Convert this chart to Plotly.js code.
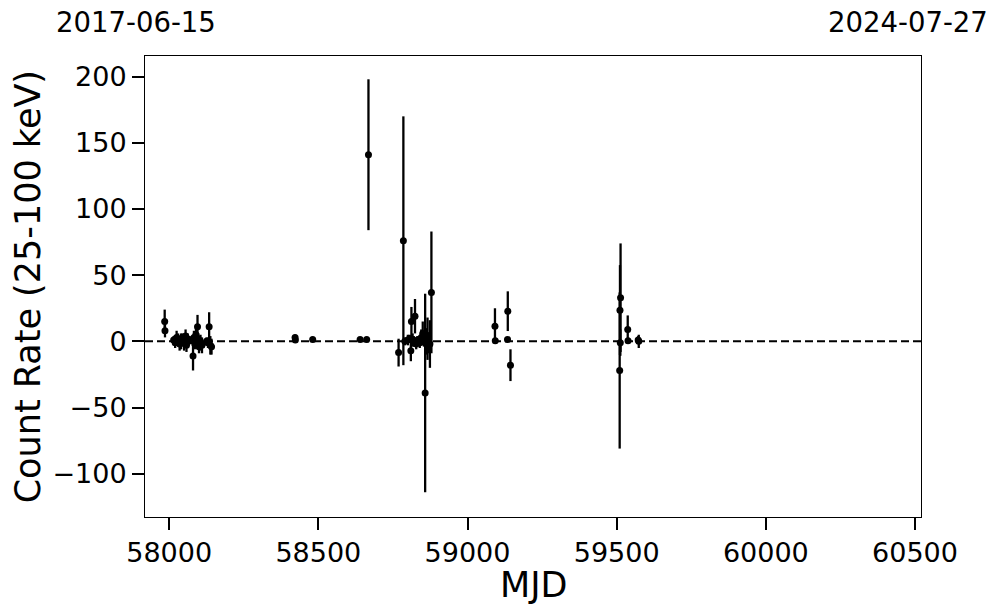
<!DOCTYPE html>
<html>
<head>
<meta charset="utf-8">
<script src="https://cdn.plot.ly/plotly-3.0.1.min.js"></script>
<style>html,body{margin:0;padding:0;background:#fff;}#chart{width:997px;height:613px;}</style>
</head>
<body>
<div id="chart"></div>
<script>
// Observation times (MJD)
var mjd = [
  57985, 57986, 58015, 58020, 58025, 58030, 58035, 58040, 58045, 58050,
  58055, 58058, 58062, 58065, 58075, 58080, 58083, 58086, 58090, 58095,
  58097, 58100, 58105, 58110, 58125, 58130, 58134, 58138, 58142,
  58422, 58423, 58481, 58640, 58662, 58668,
  58769, 58785, 58790, 58800, 58806, 58810, 58812, 58816, 58820, 58824,
  58828, 58832, 58840, 58845, 58850, 58854, 58858, 58862, 58866, 58870,
  58874, 58879,
  59092, 59093, 59134, 59135, 59144,
  59510, 59511, 59512, 59513, 59537, 59538, 59572, 59574
];
// Count rate (25-100 keV)
var rate = [
  15, 8, 1, -1, 3, 2, -2, 0, 1, -1,
  4, -3, 2, 0, 1, -11, 3, -2, 5, 11,
  2, -4, -1, -3, 0, -1, 11, -3, -4,
  3, 1, 1.4, 1.4, 1.4, 141,
  -8.5, 76, 0, 1, 2, -7, 15, 1, 0, 19,
  -2, 1, -1, 3, 6, 1, -39, 0, 2, -1,
  -2, 37,
  11.5, 0.4, 1.4, 22.8, -18,
  -22, 23.6, -1, 33, 9, 0.5, 1, 0
];
// 1-sigma uncertainty
var rateErr = [
  9, 5, 3, 4, 5, 4, 5, 6, 5, 6,
  5, 5, 4, 3, 3, 11, 5, 4, 6, 9,
  4, 5, 6, 6, 3, 4, 11, 7, 6,
  2, 2, 1, 1, 1, 57,
  10.5, 94, 3, 4, 3, 8, 11, 5, 4, 13,
  4, 3, 4, 6, 9, 5, 75, 10, 16, 8,
  18, 46,
  13.5, 1, 1, 15, 12,
  59, 34, 10, 41, 10.6, 2, 3, 5
];
var xTicks = [58000, 58500, 59000, 59500, 60000, 60500];
var xTickText = ['58000', '58500', '59000', '59500', '60000', '60500'];
var yTicks = [-100, -50, 0, 50, 100, 150, 200];
var yTickText = ['\u2212100', '\u221250', '0', '50', '100', '150', '200'];
var startDate = '2017-06-15';
var endDate = '2024-07-27';

var font = 'DejaVu Sans, sans-serif';

var trace = {
  x: mjd, y: rate, type: 'scatter', mode: 'markers',
  marker: {color: '#000', size: 7},
  error_y: {type: 'data', array: rateErr, visible: true, color: '#000', thickness: 2.3, width: 0},
  hoverinfo: 'x+y'
};

var layout = {
  width: 997, height: 613,
  margin: {l: 145, r: 76, t: 56, b: 96},
  paper_bgcolor: '#fff', plot_bgcolor: '#fff',
  showlegend: false,
  font: {family: font, color: '#000'},
  xaxis: {
    range: [57919, 60520], showgrid: false, zeroline: false,
    showline: true, mirror: true, linecolor: '#000', linewidth: 1,
    ticks: 'outside', ticklen: 12, tickwidth: 2, tickcolor: '#000',
    tickvals: xTicks, ticktext: xTickText,
    tickfont: {family: font, size: 27, color: '#000'}
  },
  yaxis: {
    range: [-132.7, 215.6], showgrid: false, zeroline: false,
    showline: true, mirror: true, linecolor: '#000', linewidth: 1,
    ticks: 'outside', ticklen: 12, tickwidth: 2, tickcolor: '#000',
    tickvals: yTicks, ticktext: yTickText,
    tickfont: {family: font, size: 27, color: '#000'}
  },
  shapes: [{
    type: 'line', xref: 'paper', x0: 0, x1: 1, yref: 'y', y0: 0, y1: 0,
    line: {color: '#000', width: 2, dash: '8px,4px'}, layer: 'below'
  }],
  annotations: [
    {text: 'MJD', xref: 'paper', yref: 'paper', x: 0.5, y: -0.148, xanchor: 'center', yanchor: 'middle',
     showarrow: false, font: {family: font, size: 35, color: '#000'}},
    {text: 'Count Rate (25-100 keV)', xref: 'paper', yref: 'paper', x: -0.151, y: 0.5, textangle: -90,
     xanchor: 'center', yanchor: 'middle', showarrow: false, font: {family: font, size: 35, color: '#000'}},
    {text: startDate, xref: 'paper', yref: 'paper', x: -0.0116, y: 1.074, xanchor: 'center', yanchor: 'middle',
     showarrow: false, font: {family: font, size: 27.5, color: '#000'}},
    {text: endDate, xref: 'paper', yref: 'paper', x: 0.983, y: 1.074, xanchor: 'center', yanchor: 'middle',
     showarrow: false, font: {family: font, size: 27.5, color: '#000'}}
  ]
};

Plotly.newPlot('chart', [trace], layout, {displayModeBar: false, staticPlot: true});
</script>
</body>
</html>
